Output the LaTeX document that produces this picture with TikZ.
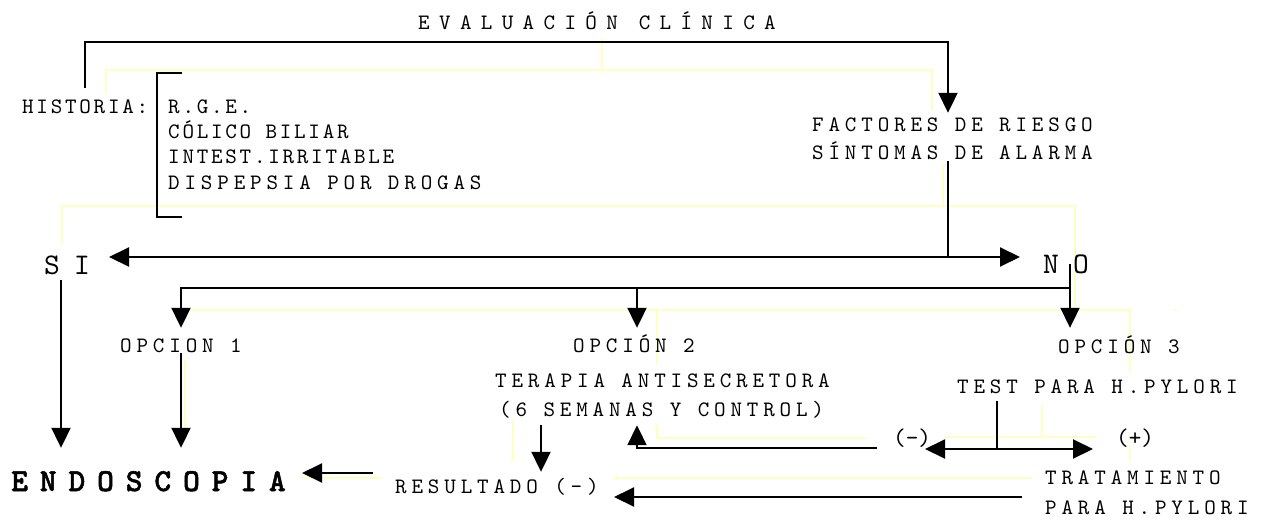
\documentclass[tikz,border=0pt]{standalone}
\usepackage{fontspec}
\usepackage{tikz}
\usetikzlibrary{arrows.meta}

\newfontfamily\txtfont[LetterSpace=22]{lmmono10-regular.otf}
\newfontfamily\narrowfont[LetterSpace=12.5]{lmmono10-regular.otf}
\newfontfamily\titlefont[LetterSpace=42.5]{lmmono10-regular.otf}
\newfontfamily\bigfont[LetterSpace=47]{lmmono10-regular.otf}
\newfontfamily\signfont{lmmono10-regular.otf}
\newfontfamily\endofont[LetterSpace=37,FakeBold=1.5]{lmmonolt10-bold.otf}

\definecolor{ghost}{RGB}{255,255,196}

\tikzset{
  lbl/.style={inner sep=0pt, anchor=base west, text height=13pt, text depth=0pt,
    font=\txtfont\fontsize{22}{26}\selectfont},
  tight/.style={lbl, font=\narrowfont\fontsize{22}{26}\selectfont},
  sign/.style={lbl, font=\signfont\fontsize{24}{28}\selectfont},
  big/.style={lbl, text height=18pt, font=\bigfont\fontsize{30}{34}\selectfont},
  line/.style={line width=2pt},
  arr/.style={line, -{Triangle[length=20pt,width=19pt]}},
  ghostline/.style={ghost, line width=1.2pt},
  ghostarr/.style={ghostline, -{Triangle[length=5pt,width=5pt]}}
}

\begin{document}
\begin{tikzpicture}[x=1pt,y=-1pt]
    \useasboundingbox (0,0) rectangle (1279,520);

    % faint guide lines
    \draw[ghostline] (602,38) -- (602,70);
    \draw[ghostline] (106,93) -- (106,70) -- (932,70) -- (932,110);
    \draw[ghostline] (943,166) -- (943,206);
    \draw[ghostline] (62,245) -- (62,206) -- (1075,206) -- (1075,310);
    \draw[ghostline] (181,310) -- (1130,310) -- (1130,373);
    \draw[ghostline] (1174,310) -- (1177,310);
    \draw[ghostline] (657,310) -- (657,365);
    \draw[ghostline] (185,360) -- (185,440);
    \draw[ghostarr] (513,420) -- (513,462);
    \draw[ghostarr] (866,438) -- (657,438) -- (657,424);
    \draw[ghostline] (1042,405) -- (1042,437);
    \draw[ghostline] (945,437) -- (1097,437);
    \draw[ghostline] (1130,445) -- (1130,462);
    \draw[ghostarr] (1032,478) -- (613,478);
    \draw[ghostline] (302,478) -- (382,478);

    % texts
    \node[lbl, font=\titlefont\fontsize{22}{26}\selectfont] (eval) at (418,29) {EVALUACIÓN CLÍNICA};
    \node[tight] (hist) at (22,113) {HISTORIA:};
    \node[tight] (rge) at (168,113) {R.G.E.};
    \node[tight] (colico) at (168,138) {CÓLICO BILIAR};
    \node[tight] (intest) at (168,163) {INTEST.IRRITABLE};
    \node[lbl] (disp) at (168,189) {DISPEPSIA POR DROGAS};
    \node[lbl] (fact) at (812,131) {FACTORES DE RIESGO};
    \node[lbl] (sint) at (812,159) {SÍNTOMAS DE ALARMA};
    \node[big] (si) at (44,274) {SI};
    \node[big] (no) at (1043,273) {NO};
    \node[lbl] (op1) at (120,352) {OPCION 1};
    \node[lbl] (op2) at (573,352) {OPCIÓN 2};
    \node[lbl] (op3) at (1058,353) {OPCIÓN 3};
    \node[lbl] (ter) at (495,387) {TERAPIA ANTISECRETORA};
    \node[lbl] (sem) at (499,416) {(6 SEMANAS Y CONTROL)};
    \node[lbl] (test) at (957,393) {TEST PARA H.PYLORI};
    \node[sign] (minus) at (893,445) {(-)};
    \node[sign] (plus) at (1116,445) {(+)};
    \node[big, font=\endofont\fontsize{32}{36}\selectfont] (endo) at (11,491) {ENDOSCOPIA};
    \node[lbl] (res) at (395,493) {RESULTADO (-)};
    \node[lbl] (trat) at (1045,484) {TRATAMIENTO};
    \node[lbl] (para) at (1045,514) {PARA H.PYLORI};

    % bracket of the history list
    \draw[line] (182,73) -- (157,73) -- (157,217) -- (182,217);

    % guide points
    \coordinate (hl) at (85,42);
    \coordinate (hr) at (948,42);
    \coordinate (sn) at (948,257);
    \coordinate (sx) at (61,0);
    \coordinate (ol) at (181,288);
    \coordinate (om) at (637,288);
    \coordinate (or) at (1070,288);
    \coordinate (tx) at (541,0);
    \coordinate (ea) at (0,473);
    \coordinate (ts) at (997,449);
    \coordinate (ng) at (637,448);
    \coordinate (lr) at (0,497);

    % connectors
    \draw[arr, shorten <=12pt, shorten >=5pt] (hist.north -| hl) -- (hl) -- (hr) -- (fact.north -| hr);
    \draw[line, shorten <=2pt] (sint.south -| sn) -- (sn);
    \draw[arr, shorten >=65pt] (sn) -- (si.west |- sn);
    \draw[arr, shorten >=23pt] (sn) -- (no.west |- sn);
    \draw[arr, shorten <=6pt, shorten >=25pt] (si.south -| sx) -- (endo.north -| sx);
    \draw[arr, shorten >=12pt] (no.center -| or) -- (op3.north -| or);
    \draw[arr, shorten >=11pt] (or) -| (op1.north -| ol);
    \draw[arr, shorten >=11pt] (om) -- (op2.north -| om);
    \draw[arr, shorten <=1pt, shorten >=25pt] (op1.south -| ol) -- (endo.north -| ol);
    \draw[arr, shorten <=9pt, shorten >=8pt] (sem.south -| tx) -- (res.north -| tx);
    \draw[arr, shorten <=22pt, shorten >=291pt] (res.west |- ea) -- (endo.west |- ea);
    \draw[line, shorten <=8pt] (test.south -| ts) -- (ts);
    \draw[arr, shorten >=32pt] (ts) -- (minus.west |- ts);
    \draw[arr, shorten >=23pt] (ts) -- (plus.west |- ts);
    \draw[arr, shorten <=16pt, shorten >=9pt] (minus.west |- ng) -| (sem.south -| ng);
    \draw[arr, shorten <=23pt, shorten >=219pt] (para.west |- lr) -- (res.west |- lr);
\end{tikzpicture}
\end{document}
